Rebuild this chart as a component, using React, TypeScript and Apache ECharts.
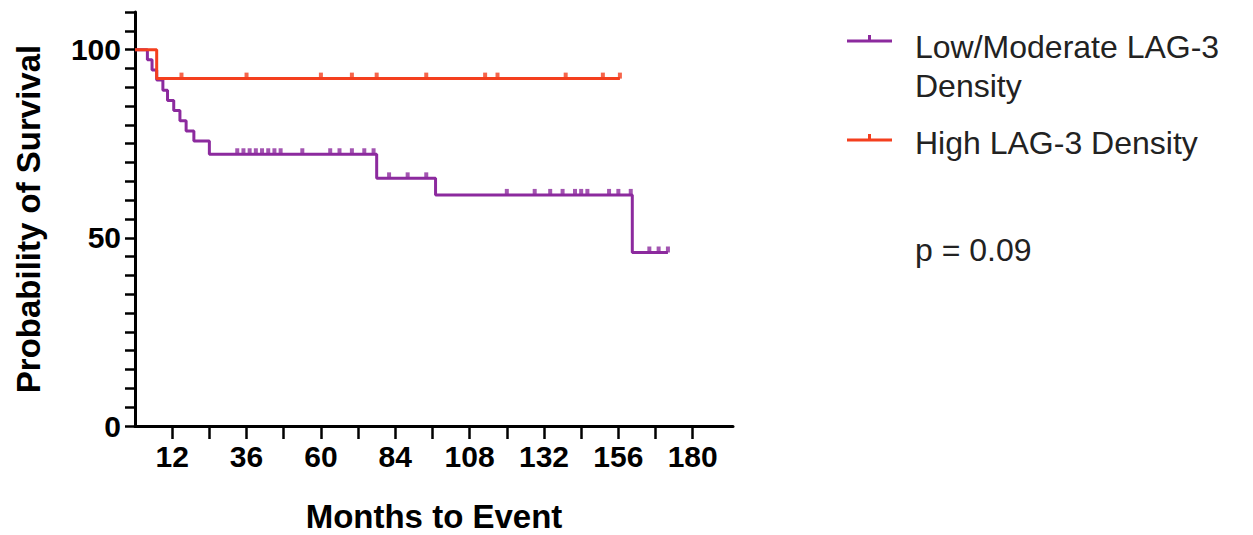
import React, { useEffect, useRef } from "react";
import * as echarts from "echarts";

// Kaplan–Meier step data (months, survival %)
const lowTimes = [0, 4, 5.5, 7, 9, 10.5, 12.5, 14.5, 16.5, 19, 24, 78, 97, 160.5, 172];
const lowSurv = [100, 97.3, 94.6, 91.9, 89.2, 86.5, 83.8, 81.1, 78.4, 75.7, 72.2, 65.8, 61.4, 46.1, 46.1];
const lowCensor = [33, 35, 37, 39, 41, 43, 45, 47, 54, 63, 66, 70, 74, 77, 82, 88, 94, 120, 129, 134, 138, 142, 144, 146, 153, 156, 160, 166, 169, 172];

const highTimes = [0, 7, 156.5];
const highSurv = [100, 92.3, 92.3];
const highCensor = [15, 36, 60, 70, 78, 94, 113, 117, 139, 151, 156.5];

const xTickValues = [12, 24, 36, 48, 60, 72, 84, 96, 108, 120, 132, 144, 156, 168, 180];
const xTickLabels = [12, 36, 60, 84, 108, 132, 156, 180];
const yTickValues = [0, 5, 10, 15, 20, 25, 30, 35, 40, 45, 50, 55, 60, 65, 70, 75, 80, 85, 90, 95, 100, 105, 110];
const yTickLabels = [0, 50, 100];

const seriesNames = ["Low/Moderate LAG-3 Density", "High LAG-3 Density"];
const pValueText = "p = 0.09";

const PURPLE = "#8C2A9E";
const RED = "#F43F1E";
const FONT = "'Liberation Sans', Arial, sans-serif";

function survAt(times: number[], surv: number[], t: number) {
  let v = surv[0];
  for (let i = 0; i < times.length; i++) {
    if (times[i] <= t) v = surv[i];
  }
  return v;
}

export default function App() {
  const ref = useRef<HTMLDivElement>(null);
  useEffect(() => {
    if (!ref.current) return;
    const chart = echarts.init(ref.current, null, { renderer: "svg" });
    const lowData = lowTimes.map((t, i) => [t, lowSurv[i]]);
    const highData = highTimes.map((t, i) => [t, highSurv[i]]);
    const lowCens = lowCensor.map((t) => [t, survAt(lowTimes, lowSurv, t)]);
    const highCens = highCensor.map((t) => [t, survAt(highTimes, highSurv, t)]);
    const censorSymbol = { symbol: "rect", symbolSize: [4, 6], symbolOffset: [0, -3] };
    chart.setOption({
      animation: false,
      backgroundColor: "#fff",
      grid: { left: 135, top: 12, width: 598, height: 414, outerBoundsMode: "none" },
      xAxis: {
        type: "value",
        min: 0,
        max: 193,
        name: "Months to Event",
        nameLocation: "middle",
        nameGap: 74,
        nameTextStyle: { fontSize: 33, fontWeight: "bold", color: "#000", fontFamily: FONT },
        axisLine: { show: true, lineStyle: { color: "#000", width: 3 } },
        axisTick: { show: true, length: 13, lineStyle: { color: "#000", width: 2.5 }, customValues: xTickValues },
        axisLabel: { fontSize: 30, fontWeight: "bold", color: "#000", fontFamily: FONT, margin: 15, customValues: xTickLabels },
        splitLine: { show: false },
      },
      yAxis: {
        type: "value",
        min: 0,
        max: 110,
        name: "Probability of Survival",
        nameLocation: "middle",
        nameGap: 90,
        nameRotate: 90,
        nameTextStyle: { fontSize: 33, fontWeight: "bold", color: "#000", fontFamily: FONT },
        axisLine: { show: true, lineStyle: { color: "#000", width: 3 } },
        axisTick: { show: true, length: 10, lineStyle: { color: "#000", width: 2.5 }, customValues: yTickValues },
        axisLabel: { fontSize: 30, fontWeight: "bold", color: "#000", fontFamily: FONT, margin: 14, customValues: yTickLabels },
        splitLine: { show: false },
      },
      series: [
        {
          name: seriesNames[0],
          type: "line",
          step: "end",
          data: lowData,
          showSymbol: false,
          lineStyle: { color: PURPLE, width: 3 },
          itemStyle: { color: PURPLE },
          z: 3,
        },
        {
          name: seriesNames[1],
          type: "line",
          step: "end",
          data: highData,
          showSymbol: false,
          lineStyle: { color: RED, width: 3 },
          itemStyle: { color: RED },
          z: 4,
        },
        {
          name: seriesNames[0] + " censored",
          type: "scatter",
          data: lowCens,
          ...censorSymbol,
          itemStyle: { color: PURPLE },
          z: 5,
        },
        {
          name: seriesNames[1] + " censored",
          type: "scatter",
          data: highCens,
          ...censorSymbol,
          itemStyle: { color: RED },
          z: 6,
        },
      ],
      graphic: [
        { type: "line", shape: { x1: 847, y1: 41, x2: 892, y2: 41 }, style: { stroke: PURPLE, lineWidth: 3 } },
        { type: "rect", shape: { x: 868, y: 35, width: 3, height: 6 }, style: { fill: PURPLE } },
        { type: "text", x: 915, y: 47, style: { text: "Low/Moderate LAG-3", fontSize: 32, fontFamily: FONT, fill: "#222", verticalAlign: "middle" } },
        { type: "text", x: 915, y: 86, style: { text: "Density", fontSize: 32, fontFamily: FONT, fill: "#222", verticalAlign: "middle" } },
        { type: "line", shape: { x1: 847, y1: 140, x2: 892, y2: 140 }, style: { stroke: RED, lineWidth: 3 } },
        { type: "rect", shape: { x: 868, y: 134, width: 3, height: 6 }, style: { fill: RED } },
        { type: "text", x: 915, y: 143, style: { text: "High LAG-3 Density", fontSize: 32, fontFamily: FONT, fill: "#222", verticalAlign: "middle" } },
        { type: "text", x: 915, y: 250, style: { text: pValueText, fontSize: 32, fontFamily: FONT, fill: "#222", verticalAlign: "middle" } },
      ],
    });
    return () => chart.dispose();
  }, []);
  return <div ref={ref} style={{ position: "absolute", left: 0, top: 0, width: 1253, height: 535 }} />;
}
